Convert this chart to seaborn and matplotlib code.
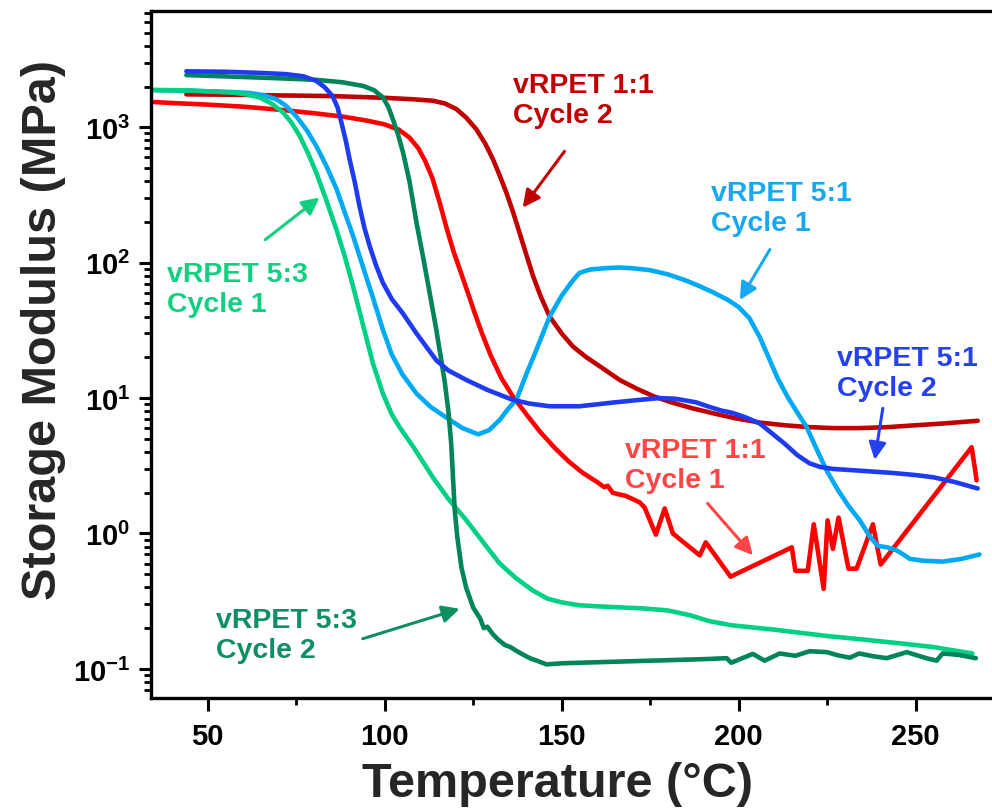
import numpy as np
import pandas as pd
import matplotlib
matplotlib.use("Agg")
import matplotlib.pyplot as plt
import seaborn as sns
from matplotlib.ticker import FixedLocator, NullFormatter

# ---------------- data ----------------
# vRPET 1:1 Cycle 1
t_11c1 = [34, 40, 50, 60, 70, 80, 88, 95, 100, 104, 107, 109.5, 111.5, 113.5, 115.5, 117.5,
          119.5, 121.5, 123.5, 125.5, 127.5, 130, 133, 136, 140, 144, 148, 152, 156, 160,
          162, 163, 164.4, 166, 168, 170, 172, 173.4, 176.6, 179.1, 181.4, 189, 190.7, 197.7,
          215, 216, 219.5, 221.2, 224, 225.1, 226.6, 228.2, 231, 233.3, 237.9, 240.1, 265.8, 267.2]
e_11c1 = [1540, 1510, 1470, 1420, 1350, 1270, 1200, 1120, 1050, 960, 840, 700, 560, 420, 280, 180,
          120, 85, 60, 42, 30, 20.5, 14, 10.5, 7.6, 5.6, 4.3, 3.4, 2.8, 2.4,
          2.2, 2.25, 2.0, 1.95, 1.9, 1.8, 1.7, 1.56, 0.98, 1.53, 1.0, 0.69, 0.86, 0.48,
          0.79, 0.53, 0.53, 1.17, 0.39, 1.25, 0.77, 1.31, 0.55, 0.55, 1.17, 0.59, 4.34, 2.47]

# vRPET 1:1 Cycle 2
t_11c2 = [44, 55, 70, 85, 100, 108, 113.6, 117, 120.3, 123, 125.9, 128.5, 130.6, 132.5, 134.4,
          136.3, 138.1, 140, 141.9, 144, 146.6, 150, 153.2, 157, 161, 166.4, 171, 176, 181,
          187, 193, 199, 205.9, 213, 220, 227, 234, 242, 250, 258, 267.5]
e_11c2 = [1750, 1740, 1720, 1700, 1650, 1610, 1570, 1500, 1360, 1180, 966, 750, 580, 440, 328,
          235, 166, 115, 80, 57, 40, 30, 24, 20, 17, 13.6, 11.8, 10.3, 9.3,
          8.4, 7.7, 7.1, 6.6, 6.3, 6.1, 6.0, 6.0, 6.1, 6.3, 6.5, 6.8]

# vRPET 5:1 Cycle 1
t_51c1 = [34, 45, 55, 62, 66, 69.4, 72, 75, 78, 80.7, 83.5, 86.4, 89, 91, 93.5, 96.7, 99.5,
          102, 105, 109, 113, 118.4, 122, 126.4, 129.5, 132.5, 135, 137.2, 140, 142, 144,
          146.6, 150, 153, 155, 158, 162, 166, 170, 175, 180, 185, 189, 193, 197, 200, 203,
          206, 209, 211, 214, 217, 219.2, 222, 224.9, 228, 231, 234.2, 237, 239.3, 242, 244.6,
          246.5, 248.3, 252, 257.6, 263, 268]
e_51c1 = [1880, 1860, 1830, 1790, 1720, 1610, 1450, 1210, 950, 726, 520, 350, 225, 160, 100, 55, 32,
          21, 15, 10.8, 8.6, 6.9, 6.0, 5.4, 5.8, 6.9, 8.4, 9.7, 15, 20, 27,
          40, 57, 73, 84, 89, 91, 92, 91, 88, 82, 74, 67, 60, 53, 47, 39,
          28, 18.5, 14, 10, 7.5, 6.1, 4.2, 2.9, 2.1, 1.6, 1.25, 0.95, 0.81, 0.79, 0.75,
          0.7, 0.65, 0.63, 0.62, 0.65, 0.70]

# vRPET 5:1 Cycle 2
t_51c2 = [44, 55, 65, 72, 77, 80.7, 83, 85.3, 86.7, 87.8, 89, 90.1, 91.5, 92.9, 94.3, 95.8,
          97.6, 99.5, 102, 105.2, 109, 114.6, 118, 123.1, 129, 136.2, 141, 146.6, 155, 165,
          172, 177.7, 182, 185, 188, 191.8, 195, 198, 202, 205.9, 209, 213, 216.5, 220, 223,
          226.6, 235, 243.5, 250, 255, 261, 267.5]
e_51c2 = [2590, 2570, 2520, 2470, 2380, 2200, 1980, 1700, 1400, 1080, 800, 580, 400, 261, 180, 132,
          95, 71, 54, 42, 30, 19, 16, 13.6, 11.5, 9.7, 9.1, 8.7, 8.7, 9.3,
          9.7, 10, 9.9, 9.6, 9.3, 8.6, 8.1, 7.8, 7.2, 6.5, 5.6, 4.6, 3.8, 3.3, 3.1,
          3.0, 2.9, 2.8, 2.7, 2.6, 2.4, 2.15]

# vRPET 5:3 Cycle 1
t_53c1 = [34, 45, 57.2, 61, 64.7, 68, 71.3, 73.7, 76, 78.4, 80.7, 83.5, 86.4, 88.7, 91, 93.5,
          96.7, 99.5, 102, 104.2, 108, 113.6, 118, 123.1, 128, 132.5, 137, 141.8, 146, 150,
          155, 160, 166, 172.9, 180, 186, 191.8, 198, 210, 224.9, 235, 245, 255, 266]
e_53c1 = [1890, 1870, 1800, 1750, 1660, 1500, 1290, 1080, 863, 640, 461, 290, 175, 112, 68, 38,
          18, 10.8, 7.6, 6.1, 4.4, 2.6, 1.8, 1.25, 0.85, 0.6, 0.47, 0.38, 0.33, 0.31,
          0.295, 0.29, 0.285, 0.28, 0.27, 0.25, 0.225, 0.21, 0.195, 0.175, 0.165, 0.155, 0.145, 0.13]

# vRPET 5:3 Cycle 2
t_53c2 = [44, 60, 70, 80.7, 88, 93.9, 97, 99.5, 101, 102.3, 103.8, 105.2, 107, 109, 111, 112.7,
          114.5, 116, 117, 118, 118.8, 119.3, 119.8, 120.5, 121.7, 123, 125, 127, 128, 129,
          130.6, 132, 134, 135.5, 137.2, 139, 141, 143, 145.7, 150, 160, 175, 190, 196.6,
          197.9, 201, 204, 207.3, 211.6, 216, 220, 224.9, 228, 231.4, 234, 238, 241.8, 247.5,
          253, 255.9, 257.6, 262, 267]
e_53c2 = [2430, 2350, 2300, 2240, 2150, 2020, 1880, 1660, 1420, 1150, 880, 650, 400, 197, 105, 60,
          33, 19, 13, 8, 4.6, 2.6, 1.48, 0.95, 0.56, 0.4, 0.284, 0.235, 0.2, 0.205,
          0.18, 0.165, 0.15, 0.145, 0.136, 0.128, 0.12, 0.115, 0.108, 0.11, 0.112, 0.115, 0.118, 0.12,
          0.111, 0.12, 0.129, 0.115, 0.13, 0.125, 0.135, 0.133, 0.126, 0.121, 0.13, 0.124, 0.12, 0.133,
          0.12, 0.115, 0.13, 0.127, 0.12]

x_ticks = [50, 100, 150, 200, 250]
y_ticks = [0.1, 1, 10, 100, 1000]
y_tick_labels = [r"$\mathbf{10^{-1}}$", r"$\mathbf{10^{0}}$", r"$\mathbf{10^{1}}$",
                 r"$\mathbf{10^{2}}$", r"$\mathbf{10^{3}}$"]

# ---------------- style ----------------
sns.set_style("ticks")
plt.rcParams["font.family"] = ["Liberation Sans", "DejaVu Sans"]
plt.rcParams["font.weight"] = "bold"
plt.rcParams["mathtext.fontset"] = "custom"
plt.rcParams["mathtext.rm"] = "Liberation Sans:bold"
plt.rcParams["mathtext.bf"] = "Liberation Sans:bold"
plt.rcParams["mathtext.it"] = "Liberation Sans:bold"

fig = plt.figure(figsize=(9.92, 8.12), dpi=100)
ax = fig.add_axes([0.1522, 0.1392, 0.853, 0.8457])

series = [
    (t_11c1, e_11c1, "#FF0000"),
    (t_11c2, e_11c2, "#C00000"),
    (t_51c1, e_51c1, "#00AAF2"),
    (t_53c1, e_53c1, "#00D084"),
    (t_53c2, e_53c2, "#00855A"),
    (t_51c2, e_51c2, "#1F3BF0"),
]
for t, e, c in series:
    df = pd.DataFrame({"T": t, "E": e})
    sns.lineplot(data=df, x="T", y="E", ax=ax, color=c, lw=3.3, sort=False,
                 estimator=None, solid_capstyle="round", solid_joinstyle="round")

ax.set_yscale("log")
ax.set_xlim(34, 273)
ax.set_ylim(0.061, 7190)

ax.xaxis.set_major_locator(FixedLocator(x_ticks))
ax.xaxis.set_minor_locator(FixedLocator([75, 125, 175, 225]))
ax.set_xticklabels([str(v) for v in x_ticks])
ax.yaxis.set_major_locator(FixedLocator(y_ticks))
ax.set_yticklabels(y_tick_labels)
minor_y = [m * 10.0 ** k for k in range(-2, 4) for m in range(2, 10)]
ax.yaxis.set_minor_locator(FixedLocator(minor_y))
ax.yaxis.set_minor_formatter(NullFormatter())

ax.tick_params(axis="both", which="major", direction="out", length=9, width=2.2,
               labelsize=21, pad=6, color="black", labelcolor="black")
ax.tick_params(axis="both", which="minor", direction="out", length=5, width=2.0, color="black")
ax.tick_params(axis="x", which="major", pad=8)

for s in ["left", "bottom", "top"]:
    ax.spines[s].set_linewidth(2.4)
    ax.spines[s].set_color("black")
ax.spines["right"].set_visible(False)

ax.set_xlabel("Temperature (°C)", fontsize=35, fontweight="bold")
ax.set_ylabel("Storage Modulus (MPa)", fontsize=35, fontweight="bold")
ax.xaxis.set_label_coords(0.48, -0.092)
ax.yaxis.set_label_coords(-0.1, 0.537)

# ---------------- annotations ----------------
annots = [
    ("vRPET 5:3\nCycle 1", "#10D080", (38.4, 64), (66.3, 148), (81.6, 303)),
    ("vRPET 5:3\nCycle 2", "#0E8F60", (52.5, 0.177), (93.8, 0.167), (121.2, 0.278)),
    ("vRPET 1:1\nCycle 2", "#C00000", (136.2, 1600), (150.8, 664), (139.0, 255)),
    ("vRPET 5:1\nCycle 1", "#18A8F0", (192.1, 253), (208.8, 125), (200.3, 53)),
    ("vRPET 5:1\nCycle 2", "#2440F0", (227.7, 15.2), (240.7, 8.4), (238.4, 3.5)),
    ("vRPET 1:1\nCycle 1", "#FF4545", (167.8, 3.19), (191.2, 1.67), (204.0, 0.69)),
]
for txt, col, tpos, tail, head in annots:
    ax.text(tpos[0], tpos[1], txt, color=col, fontsize=20.5, fontweight="bold",
            ha="left", va="center", linespacing=1.2)
    ax.annotate("", xy=head, xytext=tail,
                arrowprops=dict(arrowstyle="-|>", color=col, lw=2.2,
                                mutation_scale=26, shrinkA=0, shrinkB=0))

fig.savefig("out.png", dpi=100)
